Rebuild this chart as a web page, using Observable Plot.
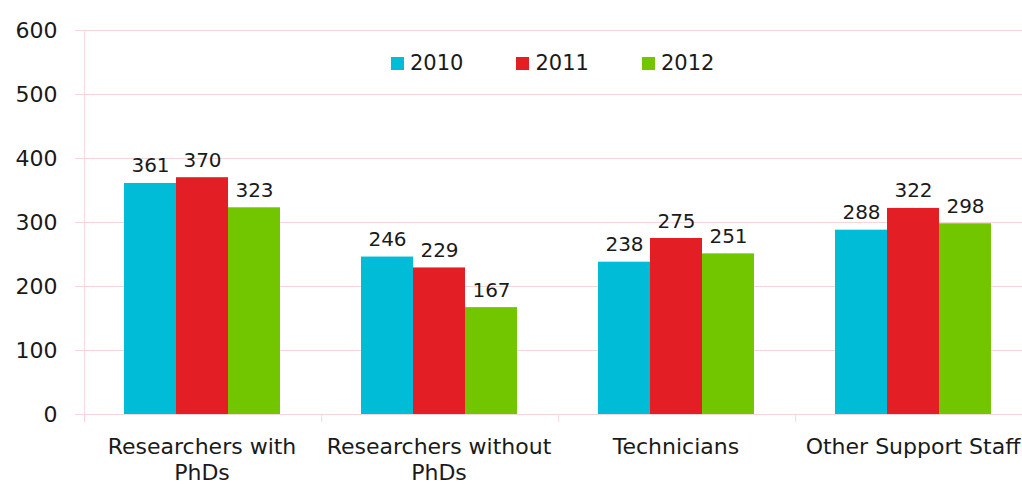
<!DOCTYPE html>
<html><head><meta charset="utf-8">
<script src="https://cdn.jsdelivr.net/npm/d3@7"></script>
<script src="https://cdn.jsdelivr.net/npm/@observablehq/plot@0.6"></script>
<style>
html,body{margin:0;padding:0;background:#fff;overflow:hidden;}
#wrap{position:relative;width:1022px;height:484px;overflow:hidden;}
#wrap svg{display:block;max-width:none !important;height:484px !important;}
#legend{position:absolute;left:391px;top:50px;display:flex;align-items:center;font:21px "DejaVu Sans";color:#1a1a1a;}
.item{display:flex;align-items:center;margin-right:53px;line-height:27px;}
.sw{width:13px;height:13px;margin-right:6px;}
</style></head><body><div id="wrap"></div>
<script>
const categories = ["Researchers with PhDs","Researchers without PhDs","Technicians","Other Support Staff"];
const categoryLabels = ["Researchers with\nPhDs","Researchers without\nPhDs","Technicians","Other Support Staff"];
const years = ["2010","2011","2012"];
const values2010 = [361,246,238,288];
const values2011 = [370,229,275,322];
const values2012 = [323,167,251,298];
const colors = ["#00BCD7","#E31E24","#72C600"];
const yTicks = [0,100,200,300,400,500,600];

const series = [values2010, values2011, values2012];
const data = categories.flatMap((c,i)=> years.map((y,j)=>({category:c, year:y, value: series[j][i]})));
const gridColor = "#F3D8D8";
const textColor = "#1a1a1a";
const edgeOffset = -65.8;

const chart = Plot.plot({
  width: 1031, height: 484,
  marginLeft: 83, marginRight: 0, marginTop: 30, marginBottom: 70,
  style: {fontFamily: "DejaVu Sans", background: "#fff", color: textColor},
  fx: {domain: categories, padding: 0, label: null},
  x: {domain: years, paddingInner: 0, paddingOuter: 0.75, axis: null},
  y: {domain: [0,600], label: null},
  color: {domain: years, range: colors},
  marks: [
    Plot.gridY(yTicks, {stroke: gridColor, strokeOpacity: 1}),
    Plot.axisY(yTicks, {tickSize: 8, tickPadding: 18, stroke: gridColor, fill: textColor, fontSize: 22, label: null, tickFormat: d => String(d)}),
    Plot.axisFx({anchor: "bottom", tickSize: 0, tickPadding: 21, fontSize: 22, lineHeight: 1.18, fill: textColor, label: null,
      tickFormat: d => categoryLabels[categories.indexOf(d)]}),
    Plot.ruleX([{category: categories[0], year: years[0]}], {fx: "category", x: "year", y1: 600, y2: 0, dx: edgeOffset, insetBottom: -8, stroke: gridColor}),
    Plot.ruleX(categories.map(c => ({category: c, year: years[0]})), {fx: "category", x: "year", y1: 0, y2: 0, dx: edgeOffset, insetBottom: -8, stroke: gridColor}),
    Plot.barY(data, {fx: "category", x: "year", y: "value", fill: "year"}),
    Plot.text(data, {fx: "category", x: "year", y: "value", text: d => String(d.value), lineAnchor: "bottom", dy: -11, fontSize: 20, fill: textColor})
  ]
});
const wrap = document.getElementById("wrap");
wrap.appendChild(chart);
const legend = document.createElement("div");
legend.id = "legend";
years.forEach((y, i) => {
  const item = document.createElement("div");
  item.className = "item";
  const sw = document.createElement("span");
  sw.className = "sw";
  sw.style.background = colors[i];
  const t = document.createElement("span");
  t.textContent = y;
  item.appendChild(sw); item.appendChild(t);
  legend.appendChild(item);
});
wrap.appendChild(legend);
</script></body></html>
